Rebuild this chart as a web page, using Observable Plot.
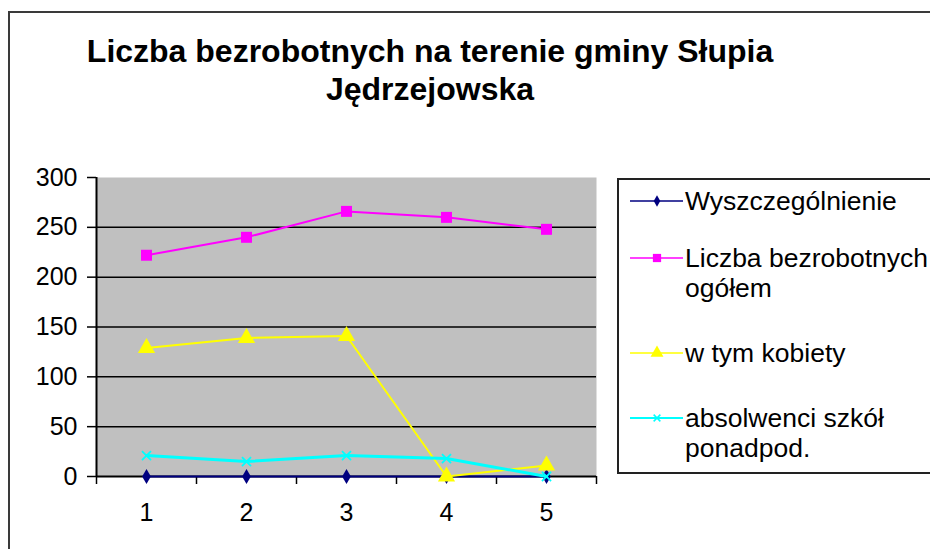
<!DOCTYPE html>
<html>
<head>
<meta charset="utf-8">
<script src="https://cdn.jsdelivr.net/npm/d3@7"></script>
<script src="https://cdn.jsdelivr.net/npm/@observablehq/plot@0.6"></script>
<style>
  html, body { margin: 0; padding: 0; background: #fff; }
  #wrap { position: relative; width: 930px; height: 549px; overflow: hidden; background: #fff; font-family: "Liberation Sans", Arial, sans-serif; }
  #title { position: absolute; left: 0; top: 32px; width: 860px; text-align: center; font-weight: bold; font-size: 32px; line-height: 38px; color: #000; }
  #wrap svg { position: absolute; left: 0; top: 0; }
</style>
</head>
<body>
<div id="wrap">
  <div id="title">Liczba bezrobotnych na terenie gminy Słupia<br>Jędrzejowska</div>
</div>
<script>
const categories = [1, 2, 3, 4, 5];
const seriesNames = ["Wyszczególnienie", "Liczba bezrobotnych ogółem", "w tym kobiety", "absolwenci szkół ponadpod."];
const legendLines = [["Wyszczególnienie"], ["Liczba bezrobotnych", "ogółem"], ["w tym kobiety"], ["absolwenci szkół", "ponadpod."]];
const wyszczegolnienie = [0, 0, 0, 0, 0];
const ogolem = [222, 240, 266, 260, 248];
const kobiety = [129, 139, 141, 0, 11];
const absolwenci = [21, 15, 21, 18, 0];
const yTicks = [0, 50, 100, 150, 200, 250, 300];

const seriesValues = [wyszczegolnienie, ogolem, kobiety, absolwenci];
const seriesColors = ["#000080", "#ff00ff", "#ffff00", "#00ffff"];
const seriesSymbols = ["diamond", "square", "triangle", "times"];
const seriesR = [4.6, 6.2, 6.4, 4.2];
const lineWidths = [2, 2, 2, 3];

const boundaries = [0.5].concat(categories.map(c => c + 0.5));

const seriesMarks = [];
seriesValues.forEach((vals, i) => {
  const rows = categories.map((c, j) => ({x: c, y: vals[j]}));
  seriesMarks.push(Plot.line(rows, {x: "x", y: "y", stroke: seriesColors[i], strokeWidth: lineWidths[i]}));
  const isStroke = seriesSymbols[i] === "times";
  seriesMarks.push(Plot.dot(rows, {
    x: "x", y: "y", symbol: () => seriesSymbols[i], r: seriesR[i],
    fill: isStroke ? "none" : seriesColors[i],
    stroke: isStroke ? seriesColors[i] : "none",
    strokeWidth: isStroke ? 1.8 : 0
  }));
});

const chart = Plot.plot({
  width: 930,
  height: 549,
  marginTop: 177,
  marginLeft: 96,
  marginRight: 334,
  marginBottom: 73,
  style: {background: "transparent", fontFamily: "'Liberation Sans', Arial, sans-serif", fontSize: "25px", color: "#000", overflow: "visible"},
  x: {domain: [0.5, 5.5]},
  y: {domain: [0, 300]},
  marks: [
    Plot.frame({fill: "#c0c0c0", stroke: "none"}),
    Plot.gridY(yTicks.filter(v => v > 0 && v < 300), {stroke: "#000", strokeOpacity: 1, strokeWidth: 1.5}),
    Plot.axisY(yTicks, {tickSize: 9, tickPadding: 10, label: null, strokeWidth: 1.5, tickFormat: d => String(d)}),
    Plot.axisX(boundaries, {tickSize: 8, tickFormat: () => "", label: null, strokeWidth: 1.5}),
    Plot.axisX(categories, {tickSize: 0, tickPadding: 27, label: null, tickFormat: d => String(d)}),
    Plot.ruleX([0.5], {stroke: "#000", strokeWidth: 2}),
    Plot.ruleY([0], {stroke: "#000", strokeWidth: 2}),
    ...seriesMarks
  ]
});
document.getElementById("wrap").appendChild(chart);

// Outer frame and legend overlay
const svg = d3.select("#wrap").append("svg")
  .attr("width", 930).attr("height", 549)
  .style("pointer-events", "none");
svg.append("rect").attr("x", 9).attr("y", 12).attr("width", 940).attr("height", 560)
  .attr("fill", "none").attr("stroke", "#3a3a3a").attr("stroke-width", 2);
svg.append("rect").attr("x", 618).attr("y", 179).attr("width", 330).attr("height", 294)
  .attr("fill", "#fff").attr("stroke", "#222").attr("stroke-width", 2);

const entryY = [201, 258, 353, 418];
const symbolTypes = {diamond: d3.symbolDiamond, square: d3.symbolSquare, triangle: d3.symbolTriangle, times: d3.symbolTimes};
seriesNames.forEach((name, i) => {
  const y = entryY[i];
  const g = svg.append("g");
  g.append("line").attr("x1", 630).attr("x2", 683).attr("y1", y).attr("y2", y)
    .attr("stroke", seriesColors[i]).attr("stroke-width", i === 3 ? 2 : 1.5);
  const isStroke = seriesSymbols[i] === "times";
  const r = seriesR[i] * 0.75;
  g.append("path")
    .attr("transform", `translate(657,${y})`)
    .attr("d", d3.symbol(symbolTypes[seriesSymbols[i]], Math.PI * r * r)())
    .attr("fill", isStroke ? "none" : seriesColors[i])
    .attr("stroke", isStroke ? seriesColors[i] : "none")
    .attr("stroke-width", 1.5);
  legendLines[i].forEach((t, k) => {
    g.append("text").attr("x", 685).attr("y", y + 9 + k * 30)
      .attr("font-family", "'Liberation Sans', Arial, sans-serif")
      .attr("font-size", 26.5).attr("fill", "#000").text(t);
  });
});
</script>
</body>
</html>
